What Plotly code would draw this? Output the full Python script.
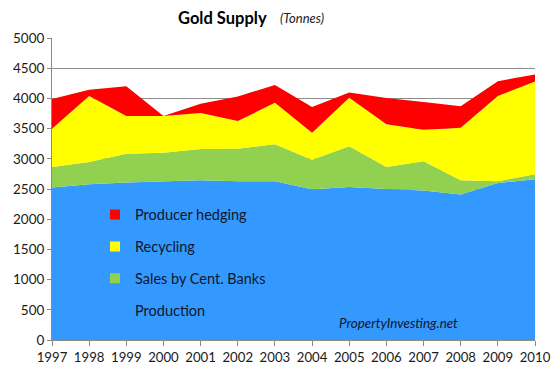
import plotly.graph_objects as go

years = list(range(1997, 2011))
production = [2524, 2579, 2606, 2628, 2645, 2628, 2628, 2496, 2534, 2501, 2474, 2408, 2600, 2661]
central_banks = [341, 369, 479, 474, 517, 540, 612, 490, 673, 364, 485, 237, 28, 83]
recycling = [634, 1090, 622, 605, 595, 456, 687, 447, 804, 705, 523, 870, 1410, 1537]
hedging = [491, 106, 496, 0, 155, 409, 293, 423, 88, 435, 457, 353, 248, 116]

series = [
    ("Production", production, "#3399FF"),
    ("Sales by Cent. Banks", central_banks, "#92D050"),
    ("Recycling", recycling, "#FFFF00"),
    ("Producer hedging", hedging, "#FF0000"),
]

FONT = "Lato, Carlito, 'Open Sans', sans-serif"

fig = go.Figure()
for name, vals, col in series:
    fig.add_trace(go.Scatter(
        x=years, y=vals, name=name, mode="lines",
        stackgroup="one", line=dict(width=0, color=col),
        fillcolor=col, showlegend=False, hoverinfo="x+y+name",
    ))

# legend entries as small square markers (top entry = last series)
for rank, (name, vals, col) in enumerate(reversed(series)):
    fig.add_trace(go.Scatter(
        x=[None], y=[None], mode="markers", name=name,
        marker=dict(symbol="square", size=10, color=col),
        legendgroup=name, legendrank=rank + 1, showlegend=True,
    ))

fig.update_layout(
    width=552, height=375,
    margin=dict(l=52, r=17, t=38, b=35, autoexpand=False),
    paper_bgcolor="white", plot_bgcolor="white",
    font=dict(family=FONT, size=13, color="#1a1a1a"),
    showlegend=True,
    legend=dict(
        x=0.089, y=0.468, xanchor="left", yanchor="top",
        traceorder="grouped", tracegroupgap=10,
        bgcolor="rgba(0,0,0,0)", font=dict(size=14.5, color="#15152a"),
        itemwidth=30,
    ),
    xaxis=dict(
        range=[1997, 2010], tickmode="array", tickvals=years,
        ticktext=[str(y) for y in years], automargin=False,
        showgrid=False, showline=True, linecolor="#888888", linewidth=1,
        ticks="outside", ticklen=5, tickcolor="#888888",
        tickfont=dict(size=13.2), zeroline=False,
    ),
    yaxis=dict(
        range=[0, 5000], dtick=500, showgrid=True, gridcolor="#8c8c8c",
        gridwidth=1, showline=True, linecolor="#888888", linewidth=1,
        ticks="outside", ticklen=4, tickcolor="#888888",
        tickfont=dict(size=13.5), zeroline=False, automargin=False,
        layer="below traces",
    ),
    annotations=[
        dict(text="<b>Gold Supply</b>", xref="paper", yref="paper",
             x=0.352, y=1, yshift=20, xanchor="center", yanchor="middle",
             showarrow=False, font=dict(size=16.5, color="black")),
        dict(text="<i>(Tonnes)</i>", xref="paper", yref="paper",
             x=0.517, y=1, yshift=20, xanchor="center", yanchor="middle",
             showarrow=False, font=dict(size=13, color="#222222")),
        dict(text="<i>PropertyInvesting.net</i>", xref="paper", yref="paper",
             x=0.718, y=0.056, xanchor="center", yanchor="middle",
             showarrow=False, font=dict(size=13.4, color="#15152a")),
    ],
)

# remove the default 8px page margin so the figure fills the window exactly
post = ("document.body.style.margin='0';"
        "document.body.style.overflow='hidden';"
        "document.documentElement.style.overflow='hidden';")
fig.write_html("out.html", post_script=post,
               config={"displayModeBar": False, "staticPlot": True})
